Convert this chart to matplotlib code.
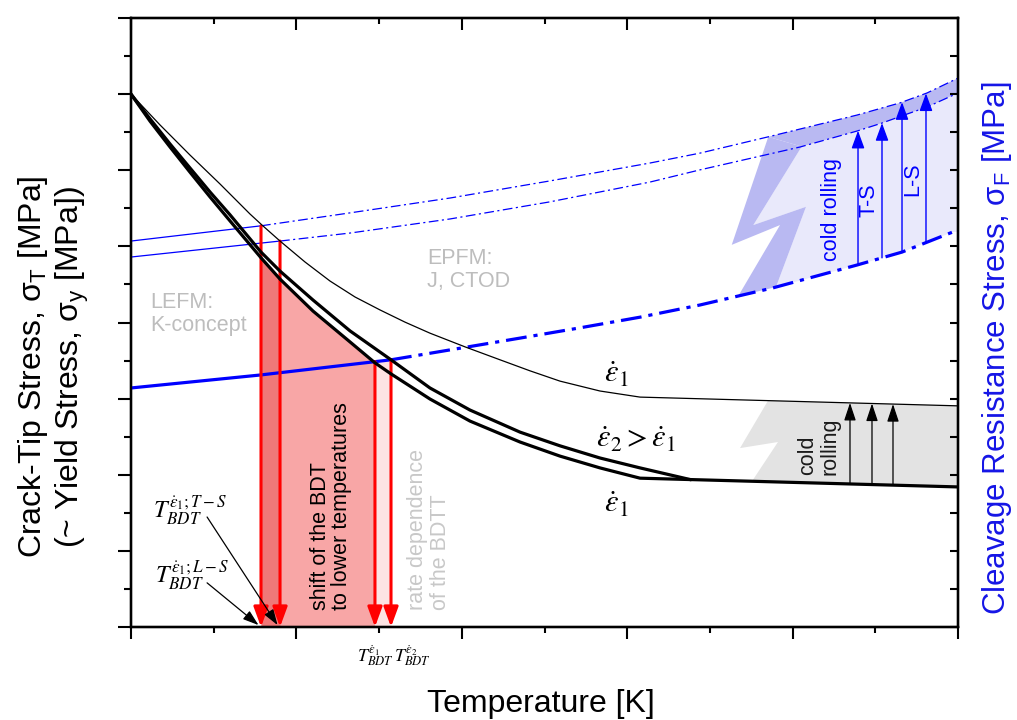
import numpy as np
import matplotlib
matplotlib.use('Agg')
import matplotlib.pyplot as plt
from matplotlib.ticker import MultipleLocator

plt.rcParams['font.family'] = ['Liberation Sans', 'DejaVu Sans']
plt.rcParams['mathtext.fontset'] = 'custom'
plt.rcParams['mathtext.rm'] = 'Liberation Sans'
plt.rcParams['mathtext.it'] = 'Liberation Sans'
plt.rcParams['mathtext.bf'] = 'Liberation Sans:bold'
plt.rcParams['lines.scale_dashes'] = False

# ---------------- data (arbitrary units: temperature 0..10, stress 0..16) -------------
# thin black: crack-tip stress (EPFM regime)
thin_x = np.array([0, 0.351, 0.713, 1.076, 1.439, 1.584, 1.802, 2.104, 2.406, 2.709, 3.011,
                   3.313, 3.615, 4.039, 4.462, 4.825, 5.187, 5.671, 6.155, 10.0])
thin_y = np.array([14.0, 13.19, 12.40, 11.64, 10.85, 10.56, 10.14, 9.59, 9.09, 8.67, 8.33,
                   8.01, 7.72, 7.36, 7.02, 6.73, 6.46, 6.20, 6.04, 5.81])
# thick black: yield stress at higher strain rate (eps2)
hi_x = np.array([0, 0.230, 0.472, 0.713, 0.955, 1.197, 1.572, 1.802, 2.201, 2.648, 3.144,
                 3.615, 4.099, 4.704, 5.187, 5.671, 6.155, 6.759])
hi_y = np.array([14.0, 13.35, 12.69, 12.06, 11.43, 10.83, 9.85, 9.35, 8.59, 7.78, 7.02,
                 6.28, 5.70, 5.12, 4.76, 4.44, 4.18, 3.875])
# thick black: yield stress at lower strain rate (eps1)
lo_x = np.array([0, 0.230, 0.472, 0.713, 0.955, 1.197, 1.572, 1.802, 2.201, 2.648, 2.950,
                 3.144, 3.615, 4.099, 4.704, 5.187, 5.671, 6.155, 10.0])
lo_y = np.array([14.0, 13.29, 12.61, 11.95, 11.30, 10.67, 9.70, 9.14, 8.30, 7.49, 6.94,
                 6.65, 5.99, 5.41, 4.86, 4.49, 4.18, 3.91, 3.68])
# cleavage resistance stress (untreated, thick blue)
cr_x = np.array([0, 1.560, 3.144, 3.857, 4.704, 5.429, 6.155, 6.880, 7.763, 8.779, 9.323, 9.940])
cr_y = np.array([6.28, 6.62, 7.02, 7.28, 7.59, 7.86, 8.14, 8.46, 8.91, 9.51, 9.85, 10.38])
# cleavage resistance after cold rolling, L-S orientation
ls_x = np.array([0, 1.572, 2.648, 3.857, 5.066, 6.276, 6.880, 7.690, 8.779, 9.299, 9.625, 10.0])
ls_y = np.array([10.14, 10.54, 10.88, 11.27, 11.72, 12.19, 12.45, 12.87, 13.45, 13.77, 14.03, 14.42])
# cleavage resistance after cold rolling, T-S orientation
ts_x = np.array([0, 1.802, 2.648, 3.857, 5.066, 6.276, 6.880, 8.089, 8.779, 9.081, 9.323, 9.625, 10.0])
ts_y = np.array([9.72, 10.14, 10.35, 10.72, 11.17, 11.69, 12.01, 12.61, 13.03, 13.24, 13.43, 13.66, 14.03])

# brittle-ductile transition temperatures
T_LS, T_TS, T_E1, T_E2 = 1.572, 1.802, 2.950, 3.144

# arrow positions (cold rolling)
gray_arrow_x = [8.694, 8.960, 9.214]
blue_ts_arrow_x = [8.791, 9.081]
blue_ls_arrow_x = [9.323, 9.613]

# lightning-bolt decoration vertices
bolt_top_x = (7.706, 8.110)
bolt_right = ([7.525, 8.162], [10.56, 11.04])
bolt_bottom_x = (7.799, 7.343)
bolt_left = ([7.848, 7.264], [10.56, 10.04])
gray_top_x, gray_bottom_x = 7.703, 7.509
gray_notch = ([7.823, 7.364], [4.86, 4.70])

# ---------------- figure ------------------------------------------------------------
fig = plt.figure(figsize=(10.17, 7.2), dpi=100)
ax = fig.add_axes([131/1017, 1-627/720, (958-131)/1017, (627-18)/720])
ax.set_xlim(0, 10)
ax.set_ylim(0, 16)

def seg(xa, ya, x0, x1):
    m = (xa > x0) & (xa < x1)
    xs = np.concatenate([[x0], xa[m], [x1]])
    return xs, np.interp(xs, xa, ya)

up = lambda x: np.interp(x, ls_x, ls_y)
lw_ = lambda x: np.interp(x, ts_x, ts_y)
thk = lambda x: np.interp(x, cr_x, cr_y)

BLUE = '#0000ff'
LAV_D = '#b9b9f2'
LAV_L = '#e9e9fb'

# light lavender region
xa, ya = seg(ts_x, ts_y, bolt_top_x[1], 10)
xb, yb = seg(cr_x, cr_y, bolt_bottom_x[0], 10)
poly_x = list(xa) + list(xb[::-1]) + [bolt_right[0][1], bolt_right[0][0]]
poly_y = list(ya) + list(thk(xb[::-1])) + [bolt_right[1][1], bolt_right[1][0]]
ax.fill(poly_x, poly_y, color=LAV_L, lw=0, zorder=1)
# dark lavender band between the two cold-rolling curves
xa, ya = seg(ls_x, ls_y, bolt_top_x[0], 10)
xb, yb = seg(ts_x, ts_y, bolt_top_x[1], 10)
ax.fill(list(xa) + list(xb[::-1]), list(ya) + list(yb[::-1]), color=LAV_D, lw=0, zorder=1)
# bolt
bx = [bolt_top_x[0], bolt_top_x[1], bolt_right[0][0], bolt_right[0][1],
      bolt_bottom_x[0], bolt_bottom_x[1], bolt_left[0][0], bolt_left[0][1]]
by = [up(bolt_top_x[0]), lw_(bolt_top_x[1]), bolt_right[1][0], bolt_right[1][1],
      thk(bolt_bottom_x[0]), thk(bolt_bottom_x[1]), bolt_left[1][0], bolt_left[1][1]]
ax.fill(bx, by, color=LAV_D, lw=0, zorder=1)

# gray cold-rolling region
xa, ya = seg(thin_x, thin_y, gray_top_x, 10)
xb, yb = seg(lo_x, lo_y, gray_bottom_x, 10)
gx = list(xa) + list(xb[::-1]) + gray_notch[0]
gy = list(ya) + list(yb[::-1]) + gray_notch[1]
ax.fill(gx, gy, color='#e3e3e3', lw=0, zorder=1)

# red regions
xs, ys = seg(lo_x, lo_y, T_LS, T_E1)
ax.fill_between(xs, 0, ys, color='#f8a6a6', lw=0, zorder=1)
xs, ys = seg(lo_x, lo_y, T_LS, T_TS)
ax.fill_between(xs, 0, ys, color='#ef7878', lw=0, zorder=1.1)
xs, ys = seg(cr_x, cr_y, T_E1, T_E2)
ax.fill_between(xs, 0, ys, color='#fde3e3', lw=0, zorder=1)

# blue curves
def split_plot(xa, ya, T, lw, dash):
    m1 = xa <= T + 1e-9
    m2 = xa >= T - 1e-9
    ax.plot(xa[m1], ya[m1], color=BLUE, lw=lw, zorder=3, solid_capstyle='butt')
    ax.plot(xa[m2], ya[m2], color=BLUE, lw=lw, ls=(0, dash), zorder=3)

split_plot(ls_x, ls_y, T_LS, 0.9, (7, 2.5, 1.5, 2.5))
split_plot(ts_x, ts_y, T_TS, 0.9, (7, 2.5, 1.5, 2.5))
split_plot(cr_x, cr_y, T_E2, 2.3, (15, 5, 3, 5))

# red arrows (BDT temperatures)
for T, top in [(T_LS, up(T_LS)), (T_TS, lw_(T_TS)), (T_E1, thk(T_E1)), (T_E2, thk(T_E2))]:
    ax.annotate('', xy=(T, 0), xytext=(T, top),
                arrowprops=dict(arrowstyle='-|>,head_length=0.6,head_width=0.22',
                                color='#ff0000', lw=2.2, mutation_scale=20,
                                shrinkA=0, shrinkB=0), zorder=4)

# black curves
ax.plot(thin_x, thin_y, color='black', lw=0.9, zorder=5)
ax.plot(hi_x, hi_y, color='black', lw=2.3, zorder=5)
ax.plot(lo_x, lo_y, color='black', lw=2.3, zorder=5)

# cold-rolling arrows
for x in gray_arrow_x:
    ax.annotate('', xy=(x, np.interp(x, thin_x, thin_y)), xytext=(x, np.interp(x, lo_x, lo_y)),
                arrowprops=dict(arrowstyle='-|>,head_length=0.6,head_width=0.2', color='black',
                                lw=0.9, mutation_scale=18, shrinkA=0, shrinkB=0), zorder=4)
for x in blue_ts_arrow_x:
    ax.annotate('', xy=(x, lw_(x)), xytext=(x, thk(x)),
                arrowprops=dict(arrowstyle='-|>,head_length=0.6,head_width=0.22', color=BLUE,
                                lw=1.0, mutation_scale=18, shrinkA=0, shrinkB=0), zorder=4)
for x in blue_ls_arrow_x:
    ax.annotate('', xy=(x, up(x)), xytext=(x, thk(x)),
                arrowprops=dict(arrowstyle='-|>,head_length=0.6,head_width=0.22', color=BLUE,
                                lw=1.0, mutation_scale=18, shrinkA=0, shrinkB=0), zorder=4)

# texts
GR = '#bdbdbd'
ax.text(0.23, 8.80, 'LEFM:\nK-concept', color=GR, fontsize=15.5, ha='left', va='top', linespacing=1.15)
ax.text(3.58, 9.96, 'EPFM:\nJ, CTOD', color=GR, fontsize=15.5, ha='left', va='top', linespacing=1.15)
ax.text(2.418, 0.45, 'shift of the BDT\nto lower temperatures', fontsize=15.5, rotation=90,
        ha='center', va='bottom', multialignment='left', linespacing=1.05, zorder=6)
ax.text(3.603, 0.45, 'rate dependence\nof the BDTT', fontsize=15.5, rotation=90, color='#c8c8c8',
        ha='center', va='bottom', multialignment='left', linespacing=1.15, zorder=6)
ax.text(8.476, 10.98, 'cold rolling', color=BLUE, fontsize=15.5, rotation=90, ha='center', va='center', zorder=6)
ax.text(8.924, 11.22, 'T-S', color=BLUE, fontsize=15.5, rotation=90, ha='center', va='center', zorder=6)
ax.text(9.456, 11.77, 'L-S', color=BLUE, fontsize=15.5, rotation=90, ha='center', va='center', zorder=6)
ax.text(8.319, 3.99, 'cold\nrolling', color='#1a1a1a', fontsize=15.5, rotation=90,
        ha='center', va='bottom', multialignment='left', linespacing=1.05, zorder=6)

ax.text(5.865, 6.62, r'$\dot{\varepsilon}_1$', fontsize=22, math_fontfamily='stix', ha='center', va='center', zorder=6)
ax.text(6.106, 4.91, r'$\dot{\varepsilon}_2 > \dot{\varepsilon}_1$', fontsize=22, math_fontfamily='stix',
        ha='center', va='center', zorder=6)
ax.text(5.865, 3.21, r'$\dot{\varepsilon}_1$', fontsize=22, math_fontfamily='stix', ha='center', va='center', zorder=6)

ax.text(0.713, 3.07, r'$T_{BDT}^{\dot{\varepsilon}_1;T-S}$', fontsize=17.5, math_fontfamily='stix',
        ha='center', va='center', zorder=6)
ax.text(0.738, 1.37, r'$T_{BDT}^{\dot{\varepsilon}_1;L-S}$', fontsize=17.5, math_fontfamily='stix',
        ha='center', va='center', zorder=6)
ax.annotate('', xy=(T_TS - 0.03, 0.05), xytext=(0.92, 2.89),
            arrowprops=dict(arrowstyle='-|>,head_length=0.6,head_width=0.2', color='black',
                            lw=0.9, mutation_scale=16, shrinkA=0, shrinkB=0), zorder=6)
ax.annotate('', xy=(T_LS - 0.03, 0.05), xytext=(0.92, 1.16),
            arrowprops=dict(arrowstyle='-|>,head_length=0.6,head_width=0.2', color='black',
                            lw=0.9, mutation_scale=16, shrinkA=0, shrinkB=0), zorder=6)
ax.text(2.95, -0.74, r'$T_{BDT}^{\dot{\varepsilon}_1}$', fontsize=13, math_fontfamily='stix',
        ha='center', va='center')
ax.text(3.40, -0.74, r'$T_{BDT}^{\dot{\varepsilon}_2}$', fontsize=13, math_fontfamily='stix',
        ha='center', va='center')

# ---------------- axes styling --------------------------------------------------------
for s in ax.spines.values():
    s.set_linewidth(1.6)
ax.xaxis.set_major_locator(MultipleLocator(2))
ax.xaxis.set_minor_locator(MultipleLocator(1))
ax.yaxis.set_major_locator(MultipleLocator(2))
ax.yaxis.set_minor_locator(MultipleLocator(1))
ax.tick_params(which='both', direction='out', width=1.5, labelbottom=False, labelleft=False,
               top=False, right=False)
ax.tick_params(axis='x', which='major', length=8.6)
ax.tick_params(axis='x', which='minor', length=4.3)
ax.tick_params(axis='y', which='major', length=9.4)
ax.tick_params(axis='y', which='minor', length=4.7)

axt = ax.twiny()
axt.set_xlim(0, 10)
axt.xaxis.set_major_locator(MultipleLocator(2))
axt.xaxis.set_minor_locator(MultipleLocator(1))
axt.tick_params(which='both', direction='in', width=1.5, labeltop=False)
axt.tick_params(which='major', length=8.6)
axt.tick_params(which='minor', length=4.3)

axr = ax.twinx()
axr.set_ylim(0, 16)
axr.yaxis.set_major_locator(MultipleLocator(1))
axr.tick_params(which='both', direction='in', width=1.5, length=5.8, labelright=False)
for a in (axt, axr):
    for s in a.spines.values():
        s.set_linewidth(1.6)

fig.text(541/1017, 1-704/720, 'Temperature [K]', fontsize=23, ha='center', va='center')
fig.text(33/1017, 1-367/720, r'Crack-Tip Stress, $\sigma_\mathrm{T}$ [MPa]', fontsize=23,
         rotation=90, ha='center', va='center')
fig.text(72/1017, 1-367/720, r'(~ Yield Stress, $\sigma_\mathrm{y}$ [MPa])', fontsize=23,
         rotation=90, ha='center', va='center')
fig.text(997/1017, 1-348/720, r'Cleavage Resistance Stress, $\sigma_\mathrm{F}$ [MPa]', fontsize=22.5,
         rotation=90, ha='center', va='center', color='#1515e6')

fig.savefig('out.png', dpi=100, facecolor='white')
